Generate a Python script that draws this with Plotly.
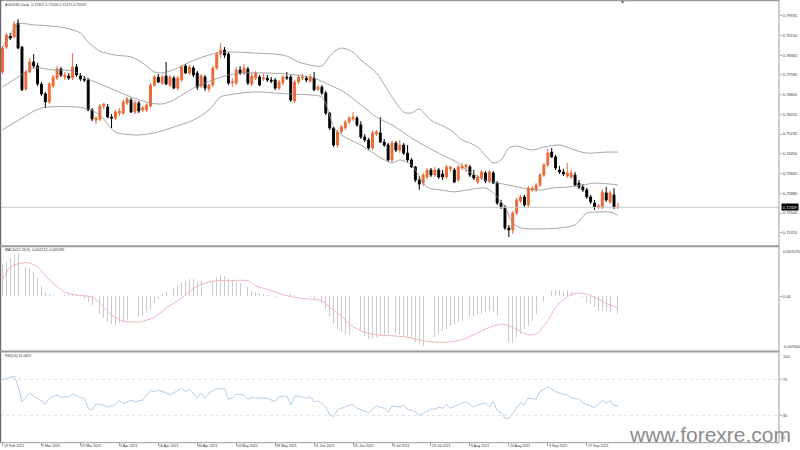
import plotly.graph_objects as go

# ---------------- data ----------------
OPEN = [
    0.7770, 0.7869, 0.7913, 0.7909, 0.7964, 0.7869, 0.7702, 0.7770, 0.7810, 0.7794,
    0.7722, 0.7683, 0.7651, 0.7714, 0.7746, 0.7782, 0.7750, 0.7754, 0.7746, 0.7790,
    0.7754, 0.7742, 0.7738, 0.7619, 0.7579, 0.7583, 0.7635, 0.7631, 0.7591, 0.7587,
    0.7607, 0.7607, 0.7647, 0.7659, 0.7611, 0.7647, 0.7619, 0.7619, 0.7635, 0.7718,
    0.7750, 0.7726, 0.7754, 0.7718, 0.7746, 0.7706, 0.7738, 0.7794, 0.7766, 0.7786,
    0.7766, 0.7714, 0.7750, 0.7702, 0.7718, 0.7786, 0.7841, 0.7857, 0.7841, 0.7726,
    0.7726, 0.7778, 0.7766, 0.7782, 0.7722, 0.7746, 0.7750, 0.7742, 0.7746, 0.7738,
    0.7738, 0.7706, 0.7726, 0.7750, 0.7750, 0.7655, 0.7730, 0.7746, 0.7746, 0.7734,
    0.7746, 0.7702, 0.7710, 0.7687, 0.7607, 0.7548, 0.7480, 0.7532, 0.7548, 0.7571,
    0.7583, 0.7587, 0.7560, 0.7512, 0.7500, 0.7468, 0.7524, 0.7528, 0.7492, 0.7480,
    0.7421, 0.7488, 0.7460, 0.7480, 0.7448, 0.7421, 0.7393, 0.7341, 0.7329, 0.7353,
    0.7381, 0.7361, 0.7381, 0.7365, 0.7353, 0.7385, 0.7381, 0.7341, 0.7389, 0.7393,
    0.7393, 0.7361, 0.7333, 0.7349, 0.7369, 0.7337, 0.7369, 0.7329, 0.7250, 0.7234,
    0.7151, 0.7143, 0.7210, 0.7258, 0.7274, 0.7242, 0.7302, 0.7302, 0.7321, 0.7361,
    0.7401, 0.7452, 0.7433, 0.7381, 0.7373, 0.7357, 0.7353, 0.7361, 0.7329, 0.7313,
    0.7302, 0.7274, 0.7250, 0.7234, 0.7234, 0.7290, 0.7254, 0.7282, 0.72307,
]
HIGH = [
    0.7873, 0.7925, 0.7925, 0.7972, 0.7980, 0.7873, 0.7778, 0.7826, 0.7841, 0.7806,
    0.7730, 0.7691, 0.7730, 0.7758, 0.7794, 0.7790, 0.7770, 0.7766, 0.7845, 0.7802,
    0.7766, 0.7754, 0.7746, 0.7627, 0.7595, 0.7643, 0.7647, 0.7643, 0.7603, 0.7619,
    0.7627, 0.7659, 0.7671, 0.7667, 0.7659, 0.7655, 0.7635, 0.7647, 0.7726, 0.7758,
    0.7762, 0.7758, 0.7810, 0.7758, 0.7754, 0.7754, 0.7798, 0.7802, 0.7798, 0.7794,
    0.7774, 0.7762, 0.7758, 0.7722, 0.7794, 0.7849, 0.7885, 0.7869, 0.7849, 0.7746,
    0.7790, 0.7794, 0.7802, 0.7790, 0.7766, 0.7774, 0.7758, 0.7762, 0.7758, 0.7750,
    0.7746, 0.7738, 0.7758, 0.7770, 0.7758, 0.7738, 0.7758, 0.7762, 0.7754, 0.7762,
    0.7770, 0.7718, 0.7718, 0.7695, 0.7611, 0.7552, 0.7540, 0.7560, 0.7579, 0.7595,
    0.7611, 0.7595, 0.7575, 0.7524, 0.7508, 0.7536, 0.7540, 0.7591, 0.7504, 0.7488,
    0.7496, 0.7496, 0.7500, 0.7488, 0.7480, 0.7429, 0.7397, 0.7357, 0.7369, 0.7389,
    0.7389, 0.7393, 0.7389, 0.7381, 0.7401, 0.7397, 0.7389, 0.7401, 0.7409, 0.7405,
    0.7401, 0.7381, 0.7361, 0.7381, 0.7377, 0.7381, 0.7377, 0.7337, 0.7262, 0.7242,
    0.7163, 0.7218, 0.7270, 0.7282, 0.7282, 0.7317, 0.7317, 0.7329, 0.7369, 0.7409,
    0.7464, 0.7468, 0.7441, 0.7397, 0.7385, 0.7409, 0.7381, 0.7373, 0.7341, 0.7325,
    0.7310, 0.7282, 0.7262, 0.7246, 0.7305, 0.7313, 0.7298, 0.7309, 0.72506,
]
LOW = [
    0.7762, 0.7861, 0.7897, 0.7905, 0.7861, 0.7695, 0.7695, 0.7766, 0.7786, 0.7714,
    0.7675, 0.7627, 0.7643, 0.7706, 0.7738, 0.7750, 0.7738, 0.7738, 0.7738, 0.7750,
    0.7734, 0.7730, 0.7615, 0.7575, 0.7563, 0.7575, 0.7623, 0.7587, 0.7548, 0.7579,
    0.7595, 0.7599, 0.7639, 0.7607, 0.7603, 0.7607, 0.7611, 0.7611, 0.7627, 0.7710,
    0.7726, 0.7718, 0.7718, 0.7710, 0.7702, 0.7698, 0.7730, 0.7762, 0.7758, 0.7750,
    0.7698, 0.7706, 0.7695, 0.7690, 0.7710, 0.7778, 0.7826, 0.7826, 0.7718, 0.7710,
    0.7718, 0.7758, 0.7758, 0.7718, 0.7714, 0.7738, 0.7714, 0.7734, 0.7730, 0.7726,
    0.7698, 0.7698, 0.7718, 0.7738, 0.7651, 0.7647, 0.7722, 0.7738, 0.7730, 0.7726,
    0.7695, 0.7695, 0.7679, 0.7599, 0.7540, 0.7472, 0.7468, 0.7524, 0.7540, 0.7563,
    0.7575, 0.7552, 0.7504, 0.7492, 0.7460, 0.7460, 0.7516, 0.7488, 0.7472, 0.7413,
    0.7413, 0.7452, 0.7448, 0.7441, 0.7413, 0.7389, 0.7333, 0.7302, 0.7317, 0.7345,
    0.7353, 0.7353, 0.7345, 0.7341, 0.7345, 0.7373, 0.7329, 0.7333, 0.7381, 0.7373,
    0.7353, 0.7341, 0.7325, 0.7341, 0.7329, 0.7329, 0.7325, 0.7242, 0.7226, 0.7143,
    0.7115, 0.7127, 0.7202, 0.7250, 0.7234, 0.7230, 0.7294, 0.7294, 0.7313, 0.7353,
    0.7393, 0.7429, 0.7381, 0.7365, 0.7357, 0.7349, 0.7345, 0.7317, 0.7305, 0.7294,
    0.7266, 0.7246, 0.7222, 0.7226, 0.7226, 0.7254, 0.7246, 0.7226, 0.72271,
]
CLOSE = [
    0.7865, 0.7917, 0.7905, 0.7960, 0.7865, 0.7699, 0.7770, 0.7810, 0.7794, 0.7722,
    0.7683, 0.7651, 0.7722, 0.7750, 0.7782, 0.7758, 0.7758, 0.7746, 0.7790, 0.7758,
    0.7742, 0.7738, 0.7619, 0.7583, 0.7587, 0.7635, 0.7643, 0.7591, 0.7587, 0.7611,
    0.7615, 0.7651, 0.7663, 0.7611, 0.7647, 0.7615, 0.7627, 0.7639, 0.7718, 0.7750,
    0.7730, 0.7750, 0.7722, 0.7750, 0.7706, 0.7746, 0.7790, 0.7766, 0.7790, 0.7758,
    0.7710, 0.7754, 0.7706, 0.7718, 0.7786, 0.7841, 0.7857, 0.7837, 0.7726, 0.7730,
    0.7778, 0.7766, 0.7786, 0.7726, 0.7754, 0.7766, 0.7718, 0.7746, 0.7738, 0.7734,
    0.7706, 0.7730, 0.7750, 0.7746, 0.7659, 0.7730, 0.7750, 0.7750, 0.7738, 0.7750,
    0.7699, 0.7710, 0.7687, 0.7607, 0.7548, 0.7480, 0.7532, 0.7552, 0.7571, 0.7587,
    0.7591, 0.7560, 0.7512, 0.7500, 0.7468, 0.7528, 0.7532, 0.7492, 0.7480, 0.7421,
    0.7488, 0.7460, 0.7480, 0.7448, 0.7421, 0.7393, 0.7341, 0.7325, 0.7361, 0.7381,
    0.7361, 0.7381, 0.7353, 0.7353, 0.7393, 0.7393, 0.7333, 0.7393, 0.7397, 0.7401,
    0.7361, 0.7349, 0.7353, 0.7373, 0.7337, 0.7373, 0.7329, 0.7250, 0.7234, 0.7151,
    0.7143, 0.7210, 0.7262, 0.7274, 0.7242, 0.7309, 0.7309, 0.7321, 0.7361, 0.7401,
    0.7448, 0.7433, 0.7389, 0.7373, 0.7365, 0.7369, 0.7369, 0.7321, 0.7313, 0.7302,
    0.7274, 0.7254, 0.7234, 0.7238, 0.7294, 0.7262, 0.7290, 0.7234, 0.72329,
]
BARS = list(range(len(CLOSE)))

# Bollinger Bands (bar index, price)
BB_UPPER = [(0, .7869), (2, .7917), (4, .7961), (8, .7957), (12, .7953), (16, .7945), (20, .7925),
            (22, .7889), (25, .7853), (29, .7837), (33, .7830), (36, .7806), (39, .7770), (41, .7766),
            (43, .7774), (45, .7786), (47, .7802), (50, .7822), (55, .7845), (59, .7849), (65, .7845),
            (70, .7841), (73, .7833), (76, .7810), (80, .7794), (82, .7794), (83, .7810), (84, .7833),
            (85, .7849), (87, .7865), (90, .7849), (92, .7818), (96, .7766), (100, .7671), (103, .7611),
            (105, .7607), (107, .7623), (110, .7579), (115, .7540), (118, .7500), (120, .7488),
            (122, .7472), (126, .7409), (128, .7421), (130, .7468), (132, .7476), (136, .7460),
            (139, .7472), (143, .7480), (147, .7460), (150, .7448), (155, .7452), (158, .7452)]
BB_MIDDLE = [(0, .7710), (4, .7750), (8, .7786), (13, .7778), (18, .7774), (22, .7742), (27, .7710),
             (33, .7671), (38, .7647), (41, .7643), (44, .7659), (49, .7706), (54, .7738), (58, .7758),
             (62, .7766), (68, .7766), (73, .7762), (79, .7750), (83, .7726), (88, .7687), (92, .7639),
             (96, .7591), (100, .7560), (105, .7508), (109, .7472), (113, .7440), (117, .7409),
             (119, .7381), (124, .7341), (126, .7333), (130, .7321), (135, .7305), (138, .7301),
             (141, .7309), (145, .7313), (149, .7321), (152, .7329), (156, .7325), (158, .7321)]
BB_LOWER = [(0, .7540), (5, .7587), (10, .7627), (21, .7627), (25, .7599), (29, .7532), (35, .7520),
            (40, .7532), (44, .7552), (49, .7579), (53, .7619), (56, .7671), (58, .7679), (65, .7691),
            (73, .7683), (79, .7679), (82, .7671), (83, .7643), (84, .7599), (85, .7552), (87, .7520),
            (92, .7480), (96, .7440), (100, .7409), (102, .7421), (105, .7401), (109, .7313),
            (113, .7301), (116, .7294), (119, .7301), (124, .7309), (126, .7290), (129, .7234),
            (131, .7171), (133, .7151), (138, .7147), (143, .7151), (147, .7163), (150, .7210),
            (153, .7214), (156, .7214), (158, .7202)]

# MACD(12,26,9): main line drawn as histogram, one value per bar
MACD_MAIN = [
    0.00438, 0.00480, 0.00530, 0.00575, 0.00610, 0.00461, 0.00414, 0.00391, 0.00345, 0.00252,
    0.00145, 0.00066, 0.00033, 0.00020, 0.00030, 0.00025, 0.00020, 0.00020, 0.00030, 0.00020,
    0.00006, -0.00030, -0.00073, -0.00120, -0.00190, -0.00245, -0.00306, -0.00352, -0.00385, -0.00403,
    -0.00375, -0.00352, -0.00329, -0.00329, -0.00306, -0.00292, -0.00273, -0.00236, -0.00180, -0.00097,
    -0.00041, 0.00033, 0.00066, 0.00089, 0.00112, 0.00145, 0.00191, 0.00219, 0.00238, 0.00243,
    0.00196, 0.00210, 0.00210, 0.00219, 0.00219, 0.00266, 0.00303, 0.00289, 0.00243, 0.00219,
    0.00196, 0.00182, 0.00150, 0.00126, 0.00080, 0.00066, 0.00043, 0.00033, 0.00024, 0.00010,
    -0.00004, -0.00013, 0.00010, 0.00020, 0.00030, 0.00020, 0.00010, 0.00010, 0.00005, -0.00010,
    -0.00036, -0.00060, -0.00097, -0.00176, -0.00269, -0.00385, -0.00454, -0.00501, -0.00524, -0.00533,
    -0.00515, -0.00501, -0.00487, -0.00547, -0.00594, -0.00580, -0.00571, -0.00547, -0.00533, -0.00524,
    -0.00501, -0.00515, -0.00533, -0.00547, -0.00561, -0.00571, -0.00640, -0.00664, -0.00687, -0.00673,
    -0.00626, -0.00571, -0.00524, -0.00487, -0.00454, -0.00408, -0.00385, -0.00361, -0.00338, -0.00315,
    -0.00292, -0.00269, -0.00245, -0.00245, -0.00222, -0.00199, -0.00222, -0.00269, -0.00408, -0.00524,
    -0.00640, -0.00654, -0.00571, -0.00524, -0.00454, -0.00408, -0.00338, -0.00245, -0.00176, -0.00060,
    0.00010, 0.00071, 0.00089, 0.00089, 0.00080, 0.00089, 0.00066, 0.00043, 0.00024, -0.00004,
    -0.00083, -0.00106, -0.00152, -0.00199, -0.00199, -0.00199, -0.00213, -0.00222, -0.00251,
]
MACD_SIGNAL = [(0, .00229), (2, .00410), (5, .00466), (7, .00466), (9, .00410), (12, .00229),
               (16, .00061), (19, .00020), (23, -.00008), (25, -.00092), (28, -.00259), (31, -.00343),
               (35, -.00357), (39, -.00287), (42, -.00162), (46, -.00022), (49, .00110), (51, .00170),
               (55, .00219), (58, .00219), (63, .00219), (65, .00149), (69, .00079), (72, .00024),
               (76, -.00022), (79, -.00036), (82, -.00060), (84, -.00152), (87, -.00269), (89, -.00385),
               (93, -.00500), (96, -.00534), (100, -.00548), (104, -.00570), (108, -.00618),
               (112, -.00640), (117, -.00618), (121, -.00534), (125, -.00431), (128, -.00385),
               (130, -.00408), (133, -.00487), (135, -.00534), (137, -.00524), (140, -.00339),
               (142, -.00152), (145, -.00004), (147, .00043), (150, .00033), (153, -.00036),
               (155, -.00096), (158, -.00159)]
MACD_MAX, MACD_MIN = 0.007074, -0.007644

# RSI(14) (bar index, value)
RSI = [(0, 69.3), (1, 71.0), (3, 73.7), (4, 63.0), (5, 45.0), (7, 54.5), (9, 49.0), (11, 42.6),
       (12, 49.0), (14, 52.6), (15, 50.0), (17, 50.8), (18, 53.7), (20, 49.6), (21, 49.0), (22, 37.8),
       (23, 36.0), (24, 42.6), (26, 41.5), (27, 39.0), (29, 42.0), (30, 47.0), (31, 42.6), (33, 47.0),
       (34, 45.0), (36, 47.0), (38, 57.4), (39, 56.3), (40, 58.0), (42, 55.0), (43, 52.6), (45, 57.4),
       (46, 60.0), (47, 56.3), (48, 59.0), (50, 49.6), (51, 54.5), (52, 49.0), (53, 54.5), (55, 60.0),
       (56, 59.0), (57, 60.0), (58, 47.8), (59, 49.0), (60, 53.4), (62, 52.6), (63, 47.8), (64, 49.6),
       (66, 49.0), (68, 49.0), (70, 45.0), (71, 50.8), (73, 51.5), (74, 41.5), (75, 50.8), (76, 51.5),
       (78, 49.0), (79, 50.8), (80, 45.0), (81, 46.0), (83, 39.6), (84, 30.4), (85, 28.6), (86, 36.0),
       (88, 39.6), (90, 42.2), (91, 37.8), (93, 34.0), (94, 33.0), (96, 40.4), (98, 37.8), (99, 33.0),
       (100, 40.4), (102, 39.0), (103, 41.5), (104, 36.7), (106, 34.0), (107, 29.7), (109, 34.0),
       (110, 37.0), (111, 36.7), (112, 39.0), (113, 37.8), (114, 42.2), (115, 37.8), (117, 41.5),
       (118, 44.0), (119, 45.2), (121, 39.0), (122, 41.5), (124, 44.0), (125, 39.6), (126, 45.2),
       (127, 35.2), (128, 33.0), (129, 26.7), (130, 26.7), (132, 39.0), (133, 44.0), (134, 41.5),
       (135, 49.0), (137, 47.8), (138, 56.3), (140, 61.9), (142, 56.3), (144, 53.4), (145, 52.6),
       (146, 49.6), (148, 47.8), (149, 44.0), (151, 40.4), (152, 38.5), (154, 46.3), (155, 43.4),
       (156, 46.3), (157, 40.4), (158, 41.04)]
RSI_LEVELS = [30, 70]

PRICE_TICKS = [0.79935, 0.79150, 0.78365, 0.77585, 0.76800, 0.76015, 0.75235,
               0.74450, 0.73665, 0.72885, 0.72100, 0.71315]
DATE_TICK_BARS = [0, 10, 20, 30, 40, 50, 60, 70, 80, 90, 100, 110, 120, 130, 140, 150]
DATE_TICK_LABELS = ["19 Feb 2021", "5 Mar 2021", "19 Mar 2021", "2 Apr 2021", "16 Apr 2021",
                    "30 Apr 2021", "14 May 2021", "28 May 2021", "11 Jun 2021", "25 Jun 2021",
                    "9 Jul 2021", "23 Jul 2021", "6 Aug 2021", "20 Aug 2021", "3 Sep 2021",
                    "17 Sep 2021"]
HEADER_MAIN = "AUDUSD,Daily  0.72307 0.72506 0.72271 0.72329"
HEADER_MACD = "MACD(12,26,9) -0.002513 -0.001589"
HEADER_RSI = "RSI(14) 41.0407"
WATERMARK = "www.forexre.com"

# ---------------- layout geometry (pixels) ----------------
W, H = 800, 450
PLOT_RIGHT = 779
BAR0_X, BAR_STEP = 2.5, 3.895
MAIN_TOP, MAIN_BOT = 1.0, 246.0
PRICE_AT_PX0, PRICE_PER_PX = 0.80558, 0.000397
MACD_TOP, MACD_BOT = 245.7, 351.3
RSI_TOP, RSI_BOT = 352.3, 442.3
FONT = "Liberation Sans, Arial, sans-serif"
UP = "#ec6a36"
DOWN = "#000000"
SEP = "#9c9c9c"
TXT = "#333333"


def py(px):
    return 1 - px / H


def px_(x):
    return x / W


xr = [(0 - BAR0_X) / BAR_STEP, (PLOT_RIGHT - BAR0_X) / BAR_STEP]
yr_main = [PRICE_AT_PX0 - PRICE_PER_PX * MAIN_BOT, PRICE_AT_PX0 - PRICE_PER_PX * MAIN_TOP]


def unzip(pts):
    return [p[0] for p in pts], [p[1] for p in pts]


fig = go.Figure()

fig.add_trace(go.Candlestick(
    x=BARS, open=OPEN, high=HIGH, low=LOW, close=CLOSE, xaxis="x", yaxis="y",
    increasing=dict(line=dict(color=UP, width=1), fillcolor=UP),
    decreasing=dict(line=dict(color=DOWN, width=1), fillcolor=DOWN),
    whiskerwidth=0, showlegend=False, hoverinfo="skip"))

for pts in (BB_UPPER, BB_MIDDLE, BB_LOWER):
    bx, by = unzip(pts)
    fig.add_trace(go.Scatter(x=bx, y=by, mode="lines", xaxis="x", yaxis="y",
                             line=dict(color="#8f8f8f", width=0.8, shape="spline", smoothing=0.8),
                             showlegend=False, hoverinfo="skip"))

fig.add_trace(go.Bar(x=BARS, y=MACD_MAIN, xaxis="x2", yaxis="y2", width=0.22,
                     marker=dict(color="#cacaca", line=dict(width=0)),
                     showlegend=False, hoverinfo="skip"))
sx, sy = unzip(MACD_SIGNAL)
fig.add_trace(go.Scatter(x=sx, y=sy, mode="lines", xaxis="x2", yaxis="y2",
                         line=dict(color="#f0b4b4", width=1, shape="spline", smoothing=0.8),
                         showlegend=False, hoverinfo="skip"))

rx, ry = unzip(RSI)
fig.add_trace(go.Scatter(x=rx, y=ry, mode="lines", xaxis="x3", yaxis="y3",
                         line=dict(color="#b0cde8", width=1),
                         showlegend=False, hoverinfo="skip"))

shapes = []
# bid line
shapes.append(dict(type="line", xref="x domain", x0=0, x1=1, yref="y",
                   y0=CLOSE[-1], y1=CLOSE[-1], line=dict(color="#c8c8c8", width=1)))
for lv in RSI_LEVELS:
    shapes.append(dict(type="line", xref="x3 domain", x0=0, x1=1, yref="y3", y0=lv, y1=lv,
                       line=dict(color="#e0e0e0", width=1, dash="dot")))
# frame / separators
rx_p = px_(PLOT_RIGHT)
shapes += [
    dict(type="line", xref="paper", yref="paper", x0=0, x1=rx_p, y0=py(0.6), y1=py(0.6),
         line=dict(color=SEP, width=1.2)),
    dict(type="line", xref="paper", yref="paper", x0=px_(0.6), x1=px_(0.6), y0=py(0), y1=py(443),
         line=dict(color="#6a6a6a", width=1.2)),
    dict(type="line", xref="paper", yref="paper", x0=rx_p, x1=rx_p, y0=py(0), y1=py(443),
         line=dict(color=SEP, width=1)),
    dict(type="line", xref="paper", yref="paper", x0=0, x1=rx_p, y0=py(246.2), y1=py(246.2),
         line=dict(color=SEP, width=2)),
    dict(type="line", xref="paper", yref="paper", x0=0, x1=rx_p, y0=py(351.5), y1=py(351.5),
         line=dict(color=SEP, width=2)),
    dict(type="line", xref="paper", yref="paper", x0=0, x1=rx_p, y0=py(442.7), y1=py(442.7),
         line=dict(color=SEP, width=1)),
]

TF = dict(family=FONT, size=4, color=TXT)
SMALL = dict(family=FONT, size=3.6, color=TXT)
ann = []
ann.append(dict(text=HEADER_MAIN, xref="paper", yref="paper", x=px_(3), y=py(4.5),
                xanchor="left", yanchor="middle", showarrow=False, font=SMALL))
ann.append(dict(text=HEADER_MACD, xref="paper", yref="paper", x=px_(3), y=py(250),
                xanchor="left", yanchor="middle", showarrow=False, font=SMALL))
ann.append(dict(text=HEADER_RSI, xref="paper", yref="paper", x=px_(3), y=py(355.5),
                xanchor="left", yanchor="middle", showarrow=False, font=SMALL))
# current price box
ann.append(dict(text=f"{CLOSE[-1]:.5f}", xref="paper", yref="y", x=px_(PLOT_RIGHT + 1.5), y=CLOSE[-1],
                xanchor="left", yanchor="middle", showarrow=False, bgcolor="#000000",
                font=dict(family=FONT, size=4, color="#ffffff"), borderpad=0.6))
# MACD / RSI edge labels
ann.append(dict(text=f"{MACD_MAX:.6f}", xref="paper", yref="y2 domain", x=px_(PLOT_RIGHT + 2), y=1,
                xanchor="left", yanchor="top", showarrow=False, font=TF, yshift=-1))
ann.append(dict(text=f"{MACD_MIN:.6f}", xref="paper", yref="y2 domain", x=px_(PLOT_RIGHT + 2), y=0,
                xanchor="left", yanchor="bottom", showarrow=False, font=TF))
ann.append(dict(text="100", xref="paper", yref="y3 domain", x=px_(PLOT_RIGHT + 2), y=1,
                xanchor="left", yanchor="top", showarrow=False, font=TF))
ann.append(dict(text="0", xref="paper", yref="y3 domain", x=px_(PLOT_RIGHT + 2), y=0,
                xanchor="left", yanchor="bottom", showarrow=False, font=TF))
# date labels
for b, lab in zip(DATE_TICK_BARS, DATE_TICK_LABELS):
    ann.append(dict(text=lab, xref="x3", yref="paper", x=b, y=py(446.3), xanchor="left",
                    yanchor="middle", showarrow=False, xshift=-1, font=SMALL))
# chart shift marker
ann.append(dict(text="\u25BC", xref="paper", yref="paper", x=px_(622), y=py(2.5), xanchor="center",
                yanchor="middle", showarrow=False, font=dict(family=FONT, size=5, color="#555")))
# watermark
ann.append(dict(text=WATERMARK, xref="paper", yref="paper", x=px_(627), y=py(434.5), xanchor="left",
                yanchor="middle", showarrow=False, font=dict(family=FONT, size=21, color="#8c8c8c")))

common_x = dict(range=xr, domain=[0, rx_p], showgrid=False, zeroline=False, showline=False,
                showticklabels=False, fixedrange=True, automargin=False)
common_y = dict(side="right", tickfont=TF, ticks="outside", ticklen=2, tickcolor="#999",
                tickwidth=0.8, showgrid=False, zeroline=False, showline=False,
                fixedrange=True, automargin=False)

fig.update_layout(
    width=W, height=H, margin=dict(l=0, r=0, t=0, b=0, pad=0, autoexpand=False),
    paper_bgcolor="#ffffff", plot_bgcolor="#ffffff",
    showlegend=False, bargap=0,
    xaxis=dict(**common_x, anchor="y", rangeslider=dict(visible=False), ticks=""),
    xaxis2=dict(**common_x, anchor="y2", matches="x", ticks=""),
    xaxis3=dict(**common_x, anchor="y3", matches="x", ticks="outside", ticklen=3,
                tickcolor="#888", tickwidth=0.8, tickvals=DATE_TICK_BARS),
    yaxis=dict(**common_y, domain=[py(MAIN_BOT), py(MAIN_TOP)], range=yr_main, anchor="x",
               tickvals=PRICE_TICKS, ticktext=[f"{v:.5f}" for v in PRICE_TICKS]),
    yaxis2=dict(**common_y, domain=[py(MACD_BOT), py(MACD_TOP)], range=[MACD_MIN, MACD_MAX],
                anchor="x2", tickvals=[0], ticktext=["0.00"]),
    yaxis3=dict(**common_y, domain=[py(RSI_BOT), py(RSI_TOP)], range=[0, 100], anchor="x3",
                tickvals=RSI_LEVELS, ticktext=[str(v) for v in RSI_LEVELS]),
    shapes=shapes, annotations=ann,
)

# the page body has an 8px default margin: remove it so the figure fills the window
fig.write_html("out.html", config={"displayModeBar": False, "staticPlot": True},
               post_script="document.body.style.margin='0px';"
                           "document.body.style.overflow='hidden';")
